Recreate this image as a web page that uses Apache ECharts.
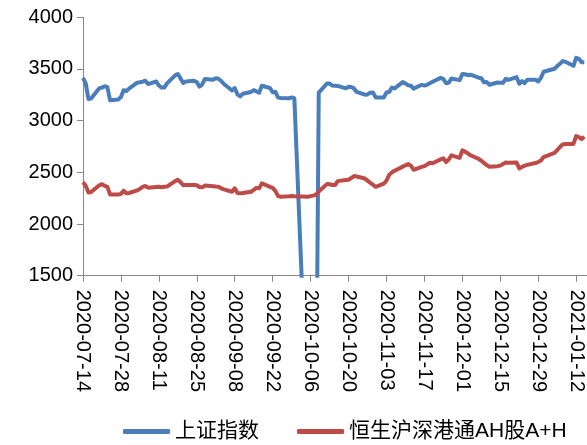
<!DOCTYPE html>
<html>
<head>
<meta charset="utf-8">
<script src="https://cdn.jsdelivr.net/npm/echarts@6/dist/echarts.min.js"></script>
<style>
html,body{margin:0;padding:0;background:#fff;}
#c{width:587px;height:445px;}
</style>
</head>
<body>
<div id="c"></div>
<script>
const dates = [
"2020-07-14","2020-07-15","2020-07-16","2020-07-17","2020-07-20","2020-07-21","2020-07-22","2020-07-23","2020-07-24","2020-07-27","2020-07-28","2020-07-29","2020-07-30","2020-07-31",
"2020-08-03","2020-08-04","2020-08-05","2020-08-06","2020-08-07","2020-08-10","2020-08-11","2020-08-12","2020-08-13","2020-08-14","2020-08-17","2020-08-18","2020-08-19","2020-08-20","2020-08-21","2020-08-24","2020-08-25","2020-08-26","2020-08-27","2020-08-28","2020-08-31",
"2020-09-01","2020-09-02","2020-09-03","2020-09-04","2020-09-07","2020-09-08","2020-09-09","2020-09-10","2020-09-11","2020-09-14","2020-09-15","2020-09-16","2020-09-17","2020-09-18","2020-09-21","2020-09-22","2020-09-23","2020-09-24","2020-09-25","2020-09-28","2020-09-29","2020-09-30",
"2020-10-05","2020-10-06","2020-10-07","2020-10-08","2020-10-09","2020-10-12","2020-10-13","2020-10-14","2020-10-15","2020-10-16","2020-10-19","2020-10-20","2020-10-21","2020-10-22","2020-10-23","2020-10-26","2020-10-27","2020-10-28","2020-10-29","2020-10-30",
"2020-11-02","2020-11-03","2020-11-04","2020-11-05","2020-11-06","2020-11-09","2020-11-10","2020-11-11","2020-11-12","2020-11-13","2020-11-16","2020-11-17","2020-11-18","2020-11-19","2020-11-20","2020-11-23","2020-11-24","2020-11-25","2020-11-26","2020-11-27","2020-11-30",
"2020-12-01","2020-12-02","2020-12-03","2020-12-04","2020-12-07","2020-12-08","2020-12-09","2020-12-10","2020-12-11","2020-12-14","2020-12-15","2020-12-16","2020-12-17","2020-12-18","2020-12-21","2020-12-22","2020-12-23","2020-12-24","2020-12-25","2020-12-28","2020-12-29","2020-12-30","2020-12-31",
"2021-01-04","2021-01-05","2021-01-06","2021-01-07","2021-01-08","2021-01-11","2021-01-12","2021-01-13","2021-01-14","2021-01-15"
];
const sse = [
3415,3361,3210,3214,3314,3320,3333,3325,3197,3205,3228,3294,3286,3310,
3367,3371,3377,3386,3354,3379,3340,3320,3320,3360,3438,3451,3409,3364,3380,3385,3373,3329,3350,3404,3396,
3411,3405,3384,3355,3292,3316,3254,3235,3260,3278,3295,3283,3270,3338,3316,3275,3279,3223,3219,3217,3224,3218,
0,0,0,0,3272,3359,3359,3340,3338,3336,3313,3328,3325,3312,3278,3251,3254,3270,3273,3225,
3225,3272,3278,3320,3312,3373,3360,3342,3338,3310,3347,3339,3347,3363,3377,3414,3402,3362,3369,3408,3392,
3451,3449,3442,3445,3416,3411,3371,3373,3347,3369,3367,3366,3404,3394,3421,3357,3383,3363,3397,3397,3379,3414,3473,
3502,3528,3550,3576,3570,3531,3608,3598,3566,3566
];
const ah = [
2403,2370,2305,2310,2375,2385,2370,2360,2285,2285,2292,2322,2297,2300,
2325,2340,2360,2368,2352,2358,2360,2355,2360,2362,2415,2428,2405,2375,2378,2378,2375,2358,2355,2372,2365,
2362,2360,2345,2335,2312,2345,2300,2297,2300,2312,2330,2350,2345,2393,2360,2350,2320,2270,2264,2268,2272,2268,
2264,2270,2275,2285,2315,2386,2385,2378,2377,2415,2425,2428,2445,2464,2460,2440,2420,2399,2380,2360,
2390,2420,2475,2500,2515,2555,2568,2580,2565,2525,2554,2560,2575,2593,2588,2625,2635,2600,2625,2665,2640,
2712,2700,2685,2665,2630,2612,2590,2570,2555,2560,2565,2580,2595,2593,2595,2538,2552,2565,2572,2590,2600,2615,2648,
2688,2715,2745,2770,2775,2775,2850,2840,2822,2845
];
const tickLabels = ["2020-07-14","2020-07-28","2020-08-11","2020-08-25","2020-09-08","2020-09-22","2020-10-06","2020-10-20","2020-11-03","2020-11-17","2020-12-01","2020-12-15","2020-12-29","2021-01-12"];
const yTicks = [1500,2000,2500,3000,3500,4000];
const seriesNames = ["上证指数","恒生沪深港通AH股A+H"];

const base = Date.UTC(2020,6,14);
function dayOf(s){const p=s.split('-').map(Number);return Math.round((Date.UTC(p[0],p[1]-1,p[2])-base)/86400000);}
function labelOf(d){const t=new Date(base+d*86400000);const m=t.getUTCMonth()+1,dd=t.getUTCDate();return t.getUTCFullYear()+'-'+(m<10?'0':'')+m+'-'+(dd<10?'0':'')+dd;}
const tickDays = tickLabels.map(dayOf);
const xs = dates.map(dayOf);

const chart = echarts.init(document.getElementById('c'), null, {renderer:'canvas'});
const font = '"Liberation Sans", Arial, "Noto Sans CJK SC", sans-serif';
chart.setOption({
  animation:false,
  backgroundColor:'#fff',
  textStyle:{fontFamily:font},
  grid:{left:83,right:0,top:17.3,bottom:169.3,containLabel:false},
  xAxis:{
    type:'value',min:0,max:186,
    axisLine:{show:true,lineStyle:{color:'#868686',width:1}},
    axisTick:{show:true,length:6,lineStyle:{color:'#868686'},customValues:tickDays},
    axisLabel:{rotate:-90,margin:14,fontSize:20,color:'#000',fontFamily:font,customValues:tickDays,formatter:v=>labelOf(v)},
    splitLine:{show:false}
  },
  yAxis:{
    type:'value',min:yTicks[0],max:yTicks[yTicks.length-1],interval:500,
    axisLine:{show:true,lineStyle:{color:'#868686',width:1}},
    axisTick:{show:true,length:6,lineStyle:{color:'#868686'}},
    axisLabel:{fontSize:20,color:'#000',margin:10,fontFamily:font,formatter:v=>String(v)},
    splitLine:{show:false}
  },
  legend:{
    left:123,top:421,padding:0,itemGap:38,itemWidth:47,itemHeight:5,
    textStyle:{fontSize:21,color:'#000',fontFamily:font},
    data:[{name:seriesNames[0],icon:'roundRect'},{name:seriesNames[1],icon:'roundRect'}]
  },
  series:[
    {name:seriesNames[0],type:'line',data:xs.map((x,i)=>[x,sse[i]]),showSymbol:false,symbol:'none',
     lineStyle:{color:'#4A7EBB',width:4,join:'round'},itemStyle:{color:'#4A7EBB'},clip:true},
    {name:seriesNames[1],type:'line',data:xs.map((x,i)=>[x,ah[i]]),showSymbol:false,symbol:'none',
     lineStyle:{color:'#BE4B48',width:4,join:'round'},itemStyle:{color:'#BE4B48'},clip:true}
  ]
});
</script>
</body>
</html>
